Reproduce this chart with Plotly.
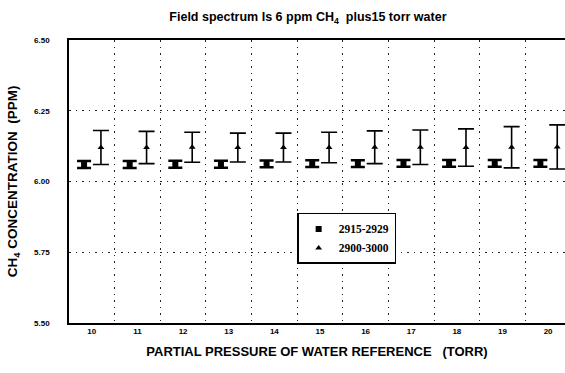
import plotly.graph_objects as go

# Partial pressure of the water reference (torr)
pressure = [10, 11, 12, 13, 14, 15, 16, 17, 18, 19, 20]

# Retrieved CH4 concentration (ppm) for the narrow window 2915-2929 cm-1
narrow_ppm = [6.060, 6.060, 6.061, 6.061, 6.062, 6.063, 6.063, 6.064, 6.064, 6.064, 6.064]
narrow_err = [0.012, 0.012, 0.012, 0.012, 0.012, 0.012, 0.012, 0.012, 0.012, 0.012, 0.012]

# Retrieved CH4 concentration (ppm) for the wide window 2900-3000 cm-1
wide_ppm = [6.120, 6.120, 6.121, 6.120, 6.120, 6.120, 6.121, 6.121, 6.120, 6.121, 6.122]
wide_err = [0.060, 0.057, 0.053, 0.051, 0.051, 0.054, 0.058, 0.061, 0.066, 0.073, 0.078]

y_ticks = [5.50, 5.75, 6.00, 6.25, 6.50]
y_tick_text = ["5.50", "5.75", "6.00", "6.25", "6.50"]

narrow_x = [p - 0.17 for p in pressure]
wide_x = [p + 0.20 for p in pressure]

SANS = "Liberation Sans, Arial, sans-serif"
SERIF = "Liberation Serif, Times New Roman, serif"

fig = go.Figure()
fig.add_trace(go.Scatter(
    x=narrow_x, y=narrow_ppm, mode="markers", name="2915-2929",
    marker=dict(symbol="square", size=6, color="black"),
    error_y=dict(type="data", array=narrow_err, visible=True,
                 color="black", thickness=2.5, width=7),
))
fig.add_trace(go.Scatter(
    x=wide_x, y=wide_ppm, mode="markers", name="2900-3000",
    marker=dict(symbol="triangle-up", size=6, color="black"),
    error_y=dict(type="data", array=wide_err, visible=True,
                 color="black", thickness=1.6, width=8),
))

fig.update_layout(
    width=565, height=373,
    margin=dict(l=69, r=0, t=40, b=50),
    paper_bgcolor="white", plot_bgcolor="white",
    showlegend=True,
    title=dict(
        text="Field spectrum Is 6 ppm CH<sub>4</sub>\u00a0 plus15 torr water",
        x=0.545, xanchor="center", y=0.955, yanchor="middle",
        font=dict(family=SANS, size=12.5, color="black", weight="bold"),
    ),
    legend=dict(
        x=0.46, y=0.389, xanchor="left", yanchor="top",
        bgcolor="white", bordercolor="black", borderwidth=1.5,
        font=dict(family=SERIF, size=11.5, color="black", weight="bold"),
        tracegroupgap=0,
    ),
    xaxis=dict(
        range=[9.5, 20.37],
        tickmode="array", tickvals=pressure, ticktext=[str(p) for p in pressure],
        showgrid=False, zeroline=False,
        showline=True, linecolor="black", linewidth=1.5, mirror=True,
        ticks="",
        tickfont=dict(family=SANS, size=8, color="black", weight="bold"),
        minor=dict(tick0=10.5, dtick=1, showgrid=True, gridcolor="#222222",
                   gridwidth=1.3, griddash="1.5px,5px", ticks=""),
        title=dict(
            text="PARTIAL PRESSURE OF WATER REFERENCE\u00a0\u00a0 (TORR)",
            font=dict(family=SANS, size=13, color="black", weight="bold"),
            standoff=12,
        ),
    ),
    yaxis=dict(
        range=[5.50, 6.50],
        tickmode="array", tickvals=y_ticks, ticktext=y_tick_text,
        showgrid=True, gridcolor="#222222", gridwidth=1.3, griddash="1.5px,5px",
        zeroline=False,
        showline=True, linecolor="black", linewidth=1.5,
        ticks="", ticklabelstandoff=16,
        tickfont=dict(family=SANS, size=8, color="black", weight="bold"),
        title=dict(
            text="CH<sub>4</sub> CONCENTRATION\u00a0 (PPM)",
            font=dict(family=SANS, size=13.5, color="black", weight="bold"),
            standoff=13,
        ),
        automargin=False,
    ),
)

fig.write_html("out.html")
